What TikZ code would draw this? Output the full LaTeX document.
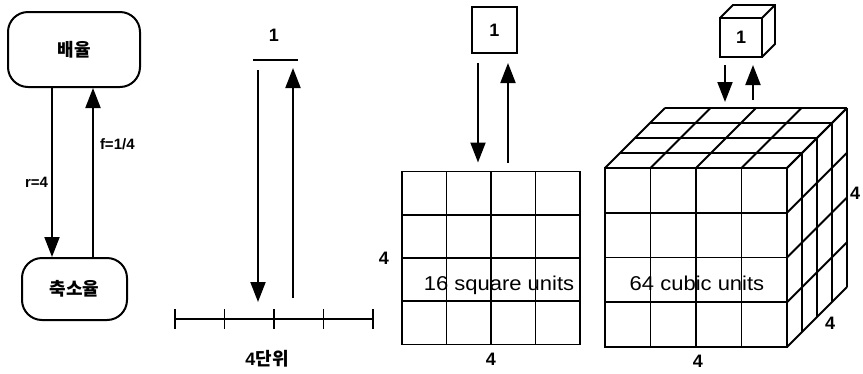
\documentclass[tikz,border=0pt]{standalone}
\usepackage{fontspec}
\setmainfont{Liberation Sans}
\newfontfamily\kofont{Noto Sans CJK KR}
\usepackage{graphicx}
\usetikzlibrary{arrows.meta, positioning, calc}

\begin{document}
\begin{tikzpicture}[
  x=1pt, y=-1pt,
  line width=2pt,
  arr/.style={-{Triangle[length=20pt,width=15pt]}},
  ratebox/.style={draw, rounded corners=20pt,
                  font=\kofont\fontsize{18}{20}\selectfont\bfseries},
  lbl/.style={font=\fontsize{18}{20}\selectfont\bfseries, inner sep=1pt},
  small/.style={font=\fontsize{15}{17}\selectfont\bfseries, inner sep=1pt},
  area/.style={font=\fontsize{20}{22}\selectfont, inner sep=0pt},
  face/.style={draw, inner sep=0pt, outer sep=0pt, line width=1.8pt},
  gline/.style={line width=1.8pt},
]
\useasboundingbox (0,0) rectangle (863,373);

%% --- 배율 / 축소율 ---
\node[ratebox, minimum width=132pt, minimum height=75pt] (mag) at (74,49.5) {배율};
\node[ratebox, minimum width=105pt, minimum height=62pt] (red) at (74.5,289) {축소율};
\draw[arr] (52,0 |- mag.south) -- (52,0 |- red.north)
  node[small, pos=0.56, left=2pt] (rlbl) {r=4};
\draw[arr] (93,0 |- red.north) -- (93,0 |- mag.south)
  node[small, pos=0.67, right=5pt] (flbl) {f=1/4};

%% --- 선분과 4단위 ---
\coordinate (ua) at (253,60);
\coordinate (ub) at (298,60);
\draw[gline] (ua) -- (ub);
\node[lbl] (uone) at (274,35) {1};
\coordinate (dtop) at (258,70);
\coordinate (dbot) at (258,302);
\coordinate (utop) at (293,68);
\coordinate (ubot) at (293,298);
\draw[arr] (dtop) -- (dbot);
\draw[arr] (ubot) -- (utop);
\coordinate (r0) at (175,319);
\coordinate (r4) at (373,319);
\draw[gline] (r0) -- (r4);
\foreach \i in {0,...,4}
  \draw[gline] ($(r0)!\i/4!(r4)$) ++(0,-10) -- ++(0,20);
\node[lbl] (len) at (267,359) {4{\kofont\bfseries 단위}};

%% --- 정사각형 ---
\node[face, minimum width=45pt, minimum height=46pt, lbl] (unitsq) at (494.5,30) {1};
\node[face, minimum width=178pt, minimum height=173pt] (sq) at (491,258) {};
\foreach \i in {1,2,3} {
  \draw[gline] ($(sq.north west)!\i/4!(sq.north east)$) -- ($(sq.south west)!\i/4!(sq.south east)$);
  \draw[gline] ($(sq.north west)!\i/4!(sq.south west)$) -- ($(sq.north east)!\i/4!(sq.south east)$);
}
\draw[arr, shorten <=10pt, shorten >=9pt] (478,0 |- unitsq.south) -- (478,0 |- sq.north);
\draw[arr, shorten <=9pt, shorten >=10pt] (508,0 |- sq.north) -- (508,0 |- unitsq.south);
\node[area] (sqtxt) at (499,285) {\scalebox{1.1}[1]{16 square units}};
\node[lbl, left=11pt] (sqside) at (sq.west) {4};
\node[lbl, below=7pt] (sqbase) at (sq.south) {4};

%% --- 정육면체 ---
\node[face, minimum width=42pt, minimum height=39pt, lbl] (unitcb) at (741,37.5) {1};
\draw[gline] (unitcb.north west) -- ++(13,-13) -- ++(42,0) -- ++(0,39) -- (unitcb.south east)
  (unitcb.north east) -- ++(13,-13);
\node[face, minimum width=182pt, minimum height=179pt] (front) at (696,257.5) {};
\foreach \i in {1,2,3} {
  \draw[gline] ($(front.north west)!\i/4!(front.north east)$) -- ($(front.south west)!\i/4!(front.south east)$);
  \draw[gline] ($(front.north west)!\i/4!(front.south west)$) -- ($(front.north east)!\i/4!(front.south east)$);
}
\foreach \i in {0,...,4} {
  \draw[gline] ($(front.north west)!\i/4!(front.north east)$) -- ++(60,-60);
  \draw[gline] ($(front.north west)+(\i*15,-\i*15)$) -- ++(182,0);
  \draw[gline] ($(front.north east)!\i/4!(front.south east)$) -- ++(60,-60);
  \draw[gline] ($(front.north east)+(\i*15,-\i*15)$) -- ++(0,179);
}
\coordinate (ctop) at ($(front.north west)+(60,-60)$);
\draw[arr, shorten <=8pt, shorten >=6pt] (725,0 |- unitcb.south) -- (725,0 |- ctop);
\draw[arr, shorten <=8pt, shorten >=8pt] (753,0 |- ctop) -- (753,0 |- unitcb.south);
\node[area] (cbtxt) at (697,283) {\scalebox{1.1}[1]{64 cubic units}};
\node[lbl] (cbh) at (855,193) {4};
\node[lbl] (cbd) at (830,323) {4};
\node[lbl] (cbw) at (698,361) {4};
\end{tikzpicture}
\end{document}
